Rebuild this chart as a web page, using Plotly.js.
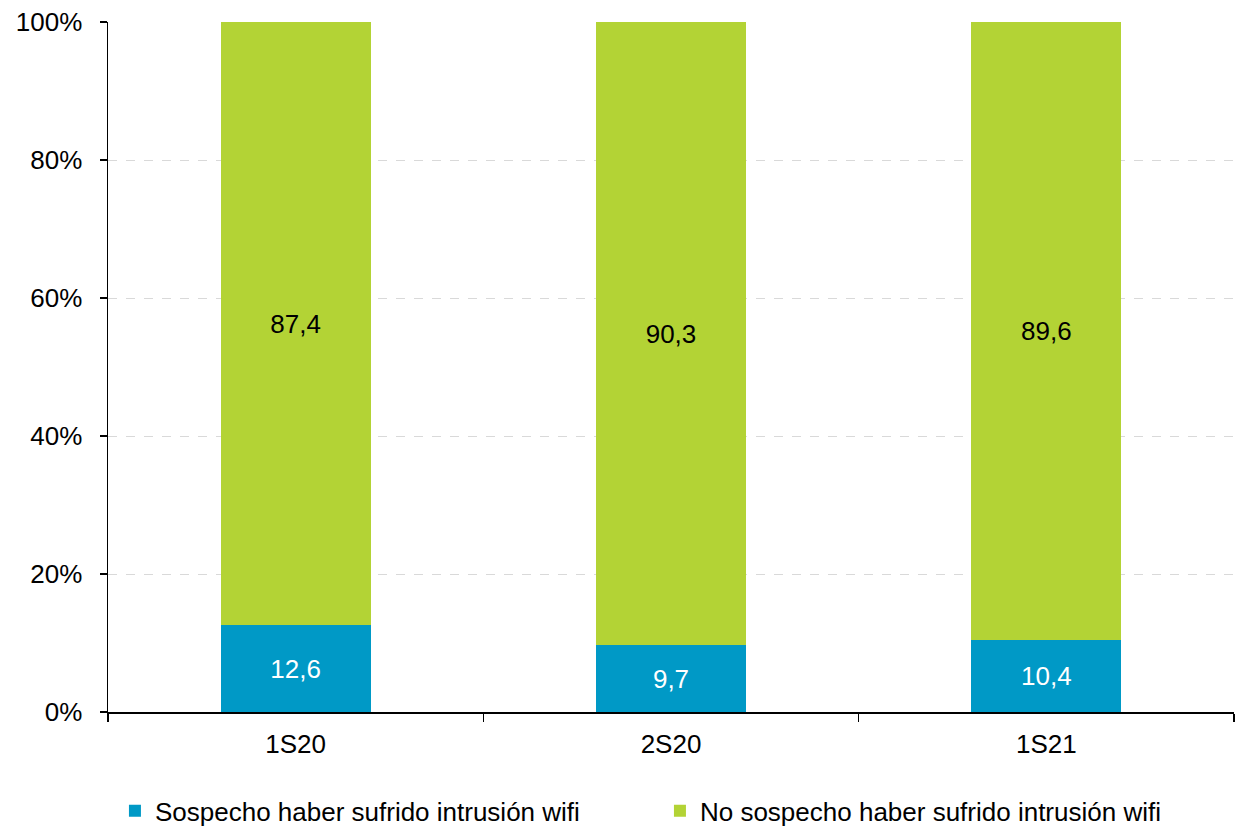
<!DOCTYPE html>
<html>
<head>
<meta charset="utf-8">
<script src="https://cdn.plot.ly/plotly-3.0.1.min.js"></script>
<style>html,body{margin:0;padding:0;background:#fff;}#chart{width:1236px;height:829px;}</style>
</head>
<body>
<div id="chart"></div>
<script>
const categories = ["1S20", "2S20", "1S21"];
const sospecho = [12.6, 9.7, 10.4];
const noSospecho = [87.4, 90.3, 89.6];
const seriesNames = ["Sospecho haber sufrido intrusión wifi", "No sospecho haber sufrido intrusión wifi"];
const yTickVals = [0, 20, 40, 60, 80, 100];
const yTickText = ["0%", "20%", "40%", "60%", "80%", "100%"];

const FONT = "Liberation Sans, Arial, sans-serif";
const FS = 26;

const traces = [
  {
    type: "bar", x: categories, y: sospecho, name: seriesNames[0],
    marker: {color: "#0099C6"}, width: 0.4,
    texttemplate: "%{y:.1f}", textposition: "inside",
    insidetextanchor: "middle", textangle: 0,
    textfont: {family: FONT, size: FS, color: "#ffffff"},
    hoverinfo: "none"
  },
  {
    type: "bar", x: categories, y: noSospecho, name: seriesNames[1],
    marker: {color: "#B3D335"}, width: 0.4,
    texttemplate: "%{y:.1f}", textposition: "inside",
    insidetextanchor: "middle", textangle: 0,
    textfont: {family: FONT, size: FS, color: "#000000"},
    hoverinfo: "none"
  }
];

const layout = {
  width: 1236, height: 829,
  barmode: "stack",
  separators: ",.",
  paper_bgcolor: "#ffffff", plot_bgcolor: "#ffffff",
  font: {family: FONT, size: FS, color: "#000000"},
  margin: {l: 108, r: 2, t: 22, b: 117, autoexpand: false},
  xaxis: {
    type: "category",
    showline: true, linecolor: "#000000", linewidth: 1.5,
    ticks: "outside", ticklen: 8, tickcolor: "#000000", tickwidth: 1.5,
    tickson: "boundaries",
    ticklabelstandoff: 8,
    showgrid: false, zeroline: false,
    tickfont: {family: FONT, size: FS, color: "#000000"},
    automargin: false,
    fixedrange: true
  },
  yaxis: {
    range: [0, 100],
    tickmode: "array", tickvals: yTickVals, ticktext: yTickText,
    showline: true, linecolor: "#000000", linewidth: 1.5,
    ticks: "outside", ticklen: 7, tickcolor: "#000000", tickwidth: 1.5,
    ticklabelstandoff: 12,
    showgrid: true, gridcolor: "#d9d9d9", gridwidth: 1, griddash: "dash",
    zeroline: false,
    tickfont: {family: FONT, size: FS, color: "#000000"},
    automargin: false,
    fixedrange: true
  },
  showlegend: true,
  legend: {
    orientation: "h",
    xref: "container", yref: "container",
    x: 0.093, xanchor: "left",
    y: 0.022, yanchor: "middle",
    traceorder: "normal",
    entrywidth: 500, entrywidthmode: "pixels",
    itemwidth: 30,
    font: {family: FONT, size: FS, color: "#000000"},
    bgcolor: "rgba(0,0,0,0)"
  }
};

Plotly.newPlot("chart", traces, layout, {displayModeBar: false, staticPlot: true});
</script>
</body>
</html>
